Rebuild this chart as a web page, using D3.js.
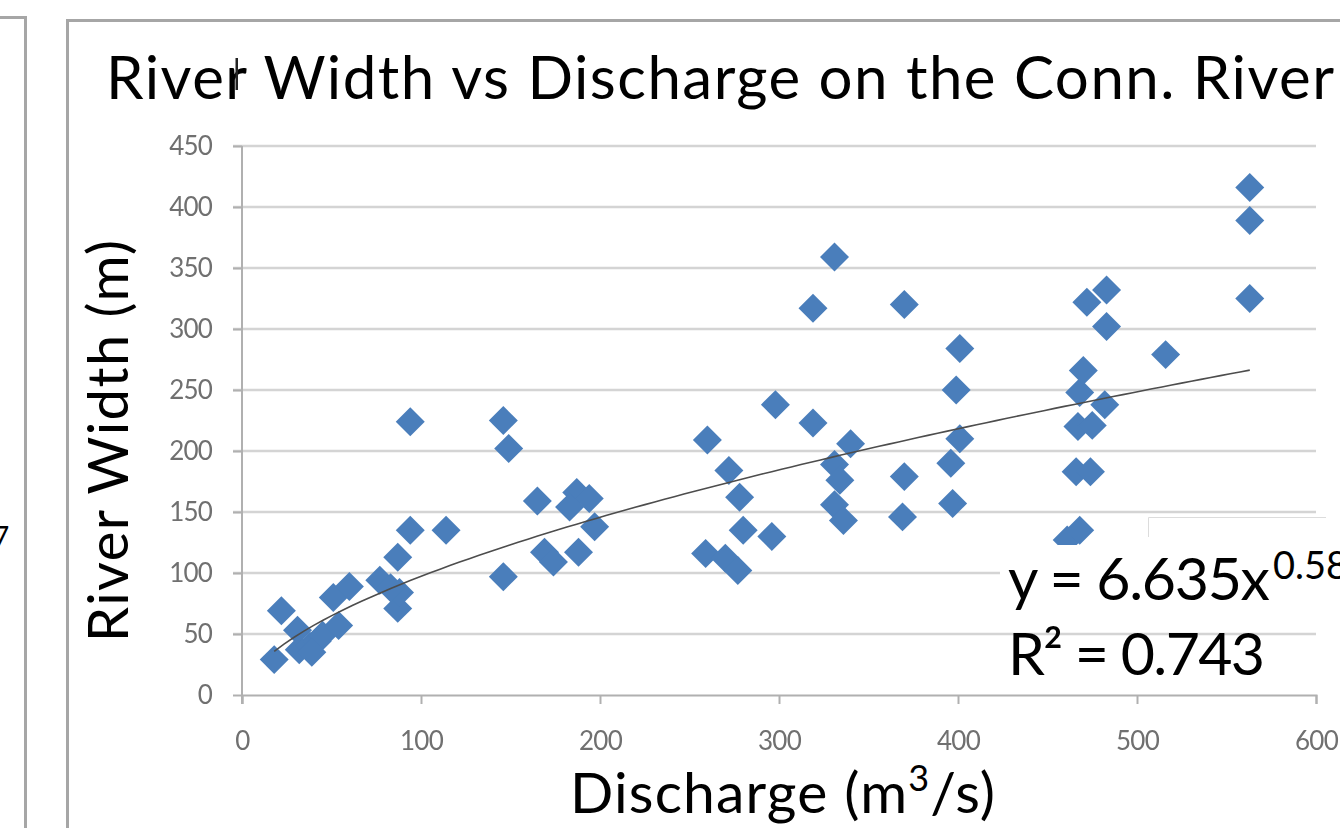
<!DOCTYPE html>
<html>
<head>
<meta charset="utf-8">
<script src="https://cdn.jsdelivr.net/npm/d3@7"></script>
<style>
  body { margin: 0; background: #fff; }
  svg { display: block; font-family: Lato, "Noto Sans", sans-serif; }
</style>
</head>
<body>
<svg id="chart" width="1340" height="828"></svg>
<script>

// Discharge (m3/s) and river width (m)
const discharge = [18, 22, 31, 32, 38, 42, 45, 39, 54, 51, 60, 77, 87, 87, 88, 83, 94, 94, 114,
  146, 146, 149, 165, 187, 194, 183, 197, 169, 174, 188,
  260, 259, 272, 270, 277, 278, 280, 296, 298, 319, 319, 331, 331, 334, 340, 331, 336,
  370, 370, 369, 396, 397, 399, 401, 401,
  461, 468, 466, 474, 467, 475, 468, 470, 482, 472, 483, 483, 516, 563, 563, 563];
const riverWidth = [29, 69, 53, 37, 40, 44, 49, 35, 57, 80, 89, 94, 113, 71, 84, 88, 135, 224, 135,
  97, 225, 202, 159, 166, 161, 154, 138, 117, 109, 117,
  209, 116, 184, 112, 102, 162, 135, 130, 238, 223, 317, 359, 189, 176, 206, 156, 143,
  320, 179, 146, 190, 157, 250, 284, 210,
  127, 135, 183, 183, 220, 221, 248, 266, 238, 322, 332, 302, 279, 416, 389, 325];

const xTicks = [0, 100, 200, 300, 400, 500, 600];
const yTicks = [0, 50, 100, 150, 200, 250, 300, 350, 400, 450];

// power trendline shown on the chart: y = 6.635 x^0.583
const fitA = 6.635;
const fitB = 0.583;

const points = discharge.map((q, i) => ({ q, w: riverWidth[i] }));

const svg = d3.select("#chart");

const x = d3.scaleLinear().domain([0, 600]).range([242, 1316]);
const y = d3.scaleLinear().domain([0, 450]).range([695, 146]);

const defs = svg.append("defs");
defs.append("filter").attr("id", "soft")
  .append("feGaussianBlur").attr("stdDeviation", 0.6);

//Slide frames
svg.append("path")
  .attr("d", "M0,17.5H25.5V828")
  .attr("fill", "none").attr("stroke", "#a6a6a6").attr("stroke-width", 3);
svg.append("text")
  .attr("x", -7).attr("y", 547)
  .attr("font-size", 28).text("7");
svg.append("path")
  .attr("d", "M67.5,828V20.5H1340")
  .attr("fill", "none").attr("stroke", "#a6a6a6").attr("stroke-width", 3);

//Gridlines
svg.append("g")
  .selectAll("line")
  .data(yTicks.filter(d => d > 0))
  .join("line")
    .attr("x1", 233).attr("x2", x(600))
    .attr("y1", d => y(d)).attr("y2", d => y(d))
    .attr("stroke", "#d4d4d4").attr("stroke-width", 2.5);

//Axes
const yAxis = svg.append("g")
  .attr("transform", `translate(${x(0)},0)`)
  .call(d3.axisLeft(y).tickValues(yTicks).tickSize(9).tickPadding(21));
const xAxis = svg.append("g")
  .attr("transform", `translate(0,${y(0)})`)
  .call(d3.axisBottom(x).tickValues(xTicks).tickSize(9).tickPadding(32));

[yAxis, xAxis].forEach(g => {
  g.select(".domain").attr("stroke", "#b0b0b0").attr("stroke-width", 2);
  g.selectAll(".tick line").attr("stroke", "#b0b0b0").attr("stroke-width", 2);
  g.selectAll(".tick text")
    .attr("fill", "#707070")
    .attr("font-family", "Lato, sans-serif")
    .attr("font-size", 26)
    .attr("letter-spacing", -0.8)
    .attr("filter", "url(#soft)");
});
xAxis.selectAll(".tick text").attr("dy", "0.55em");
yAxis.select(".domain").attr("d", `M0,${y(0) + 9}V${y(450)}`);

//Scatter points
svg.append("g")
  .selectAll("path")
  .data(points)
  .join("path")
    .attr("d", d3.symbol(d3.symbolSquare, 420))
    .attr("transform", d => `translate(${x(d.q)},${y(d.w)}) rotate(45)`)
    .attr("fill", "#4a7ebb");

//Trendline
const qExtent = d3.extent(discharge);
const fitPts = d3.range(0, 101).map(i => {
  const q = qExtent[0] + (qExtent[1] - qExtent[0]) * i / 100;
  return [q, fitA * Math.pow(q, fitB)];
});
svg.append("path")
  .datum(fitPts)
  .attr("d", d3.line().x(d => x(d[0])).y(d => y(d[1])))
  .attr("fill", "none")
  .attr("stroke", "#4d4d4d")
  .attr("stroke-width", 1.6);

//Label boxes covering the original Excel label
svg.append("rect")
  .attr("x", 1148).attr("y", 517).attr("width", 178).attr("height", 40)
  .attr("fill", "#fff");
svg.append("path")
  .attr("d", "M1148.5,537V517.5H1326")
  .attr("fill", "none").attr("stroke", "#dcdcdc").attr("stroke-width", 1);
svg.append("rect")
  .attr("x", 1000).attr("y", 545).attr("width", 340).attr("height", 72)
  .attr("fill", "#fff");

svg.append("text")
  .attr("x", 1008).attr("y", 600)
  .attr("font-size", 59)
  .attr("textLength", 262)
  .text("y = 6.635x");
svg.append("text")
  .attr("x", 1273).attr("y", 579)
  .attr("font-size", 38)
  .text("0.583");
svg.append("text")
  .attr("x", 1008).attr("y", 675)
  .attr("font-size", 59)
  .attr("textLength", 257)
  .text("R² = 0.743");

//Titles
svg.append("text")
  .attr("x", 106).attr("y", 99)
  .attr("font-size", 60)
  .attr("textLength", 1228)
  .text("River Width vs Discharge on the Conn. River");
svg.append("rect")
  .attr("x", 235.5).attr("y", 58).attr("width", 2.5).attr("height", 32)
  .attr("fill", "#222");

svg.append("text")
  .attr("transform", "translate(128,642) rotate(-90)")
  .attr("font-size", 56)
  .attr("textLength", 402)
  .text("River Width (m)");

const xTitle = svg.append("text")
  .attr("x", 570).attr("y", 813)
  .attr("font-size", 57)
  .attr("textLength", 425);
xTitle.append("tspan").text("Discharge (m");
xTitle.append("tspan").attr("font-size", 36).attr("dy", -22).text("3");
xTitle.append("tspan").attr("dy", 22).text("/s)");

</script>
</body>
</html>
